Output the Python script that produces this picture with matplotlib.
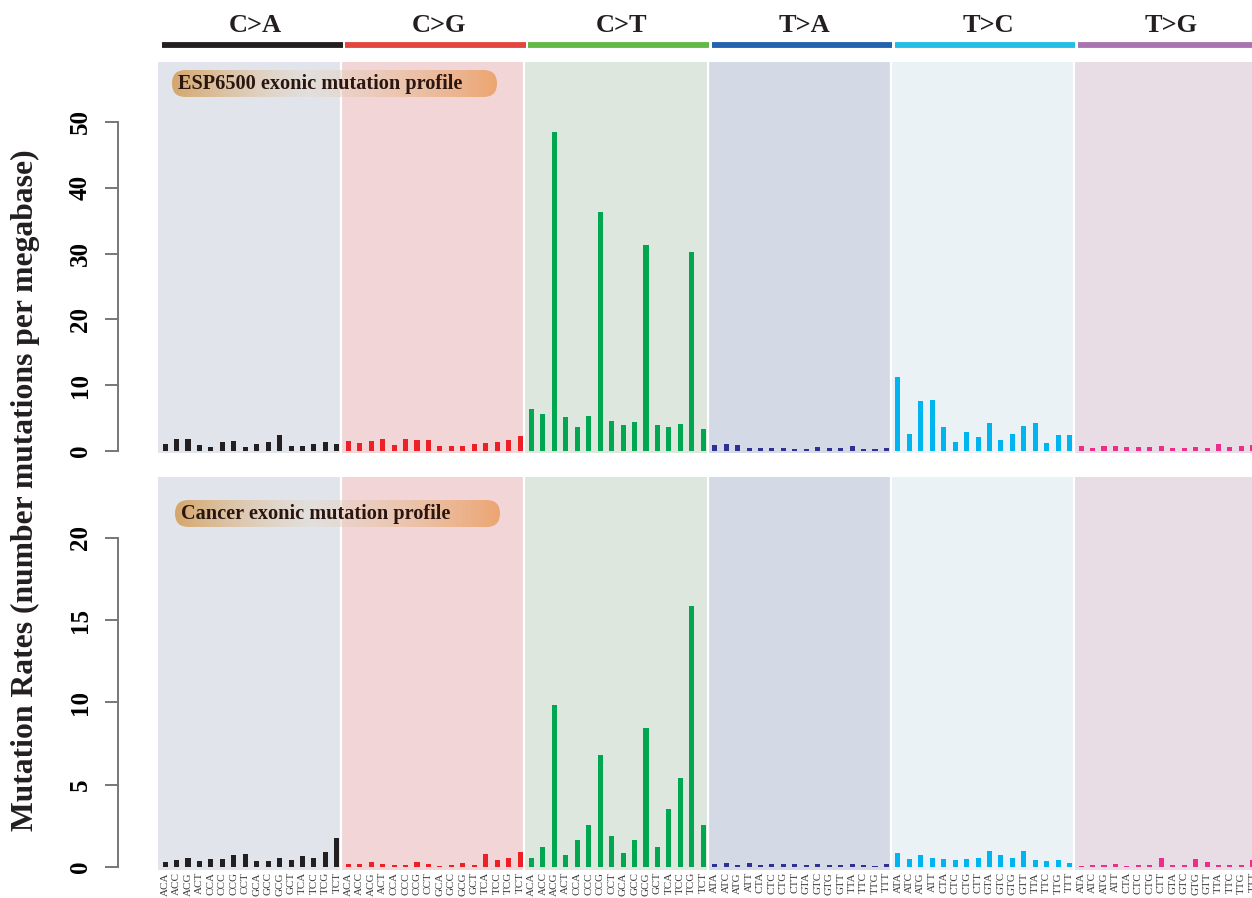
import matplotlib
matplotlib.use("Agg")
import matplotlib.pyplot as plt
import numpy as np
from matplotlib.patches import FancyBboxPatch

# ---------------- data ----------------
mut_types = ["C>A", "C>G", "C>T", "T>A", "T>C", "T>G"]
c_contexts = ["ACA", "ACC", "ACG", "ACT", "CCA", "CCC", "CCG", "CCT",
              "GCA", "GCC", "GCG", "GCT", "TCA", "TCC", "TCG", "TCT"]
t_contexts = ["ATA", "ATC", "ATG", "ATT", "CTA", "CTC", "CTG", "CTT",
              "GTA", "GTC", "GTG", "GTT", "TTA", "TTC", "TTG", "TTT"]

# ESP6500 exonic mutation profile (top panel)
esp_CA = [1.06, 1.77, 1.77, 0.86, 0.61, 1.32, 1.52, 0.66, 1.11, 1.42, 2.48, 0.76, 0.76, 1.11, 1.42, 1.11]
esp_CG = [1.52, 1.17, 1.47, 1.82, 0.91, 1.87, 1.67, 1.67, 0.81, 0.76, 0.81, 1.01, 1.27, 1.37, 1.72, 2.33]
esp_CT = [6.4, 5.7, 48.5, 5.1, 3.6, 5.3, 36.3, 4.5, 3.9, 4.4, 31.3, 4.0, 3.7, 4.1, 30.2, 3.4]
esp_TA = [0.91, 1.06, 0.91, 0.51, 0.51, 0.46, 0.46, 0.35, 0.35, 0.66, 0.41, 0.46, 0.71, 0.30, 0.25, 0.46]
esp_TC = [11.3, 2.63, 7.65, 7.75, 3.6, 1.42, 2.89, 2.18, 4.2, 1.67, 2.63, 3.75, 4.26, 1.27, 2.48, 2.48]
esp_TG = [0.76, 0.51, 0.81, 0.71, 0.56, 0.66, 0.61, 0.71, 0.51, 0.41, 0.56, 0.51, 1.01, 0.66, 0.71, 0.96]

# Cancer exonic mutation profile (bottom panel)
can_CA = [0.32, 0.41, 0.53, 0.34, 0.47, 0.47, 0.71, 0.77, 0.38, 0.38, 0.55, 0.45, 0.67, 0.57, 0.91, 1.76]
can_CG = [0.16, 0.16, 0.30, 0.20, 0.10, 0.14, 0.32, 0.16, 0.08, 0.14, 0.22, 0.14, 0.81, 0.41, 0.57, 0.93]
can_CT = [0.57, 1.2, 9.85, 0.71, 1.64, 2.57, 6.8, 1.9, 0.87, 1.66, 8.45, 1.2, 3.53, 5.4, 15.87, 2.55]
can_TA = [0.19, 0.24, 0.15, 0.26, 0.15, 0.17, 0.17, 0.19, 0.15, 0.17, 0.13, 0.13, 0.19, 0.13, 0.09, 0.17]
can_TC = [0.84, 0.47, 0.73, 0.54, 0.51, 0.41, 0.47, 0.54, 0.96, 0.73, 0.56, 0.98, 0.45, 0.36, 0.41, 0.24]
can_TG = [0.09, 0.13, 0.11, 0.19, 0.09, 0.13, 0.13, 0.54, 0.11, 0.15, 0.47, 0.28, 0.11, 0.13, 0.13, 0.43]

esp_values = [esp_CA, esp_CG, esp_CT, esp_TA, esp_TC, esp_TG]
can_values = [can_CA, can_CG, can_CT, can_TA, can_TC, can_TG]
contexts = [c_contexts] * 3 + [t_contexts] * 3

top_ticks = [0, 10, 20, 30, 40, 50]
bottom_ticks = [0, 5, 10, 15, 20]

panel_labels = ["ESP6500 exonic mutation profile", "Cancer exonic mutation profile"]
ylabel = "Mutation Rates (number mutations per megabase)"

# ---------------- style ----------------
bar_colors = ["#231f20", "#ec2127", "#00a650", "#2e3192", "#00b4ef", "#ec2d8c"]
header_colors = ["#231f20", "#e2473f", "#63b946", "#2163ae", "#22bee6", "#a874b0"]
bg_colors = ["#e1e5eb", "#f1d5d7", "#dde7dd", "#d3dae6", "#eaf2f6", "#e8dce5"]
serif = ["Liberation Serif", "DejaVu Serif"]

W, H = 1252, 898
fig = plt.figure(figsize=(W / 100, H / 100), dpi=100)
PT = 72 / 100  # points per pixel

n = 16
ntot = 96
slot = 11.45
x0 = 158
axw = ntot * slot


def fax(left, top, width, height):
    return fig.add_axes([left / W, 1 - (top + height) / H, width / W, height / H])


def draw_panel(ax, values, ylim, ticks, show_xlabels):
    ax.set_xlim(0, ntot)
    ax.set_ylim(*ylim)
    for k in range(6):
        ax.axvspan(k * n, (k + 1) * n, color=bg_colors[k], lw=0, zorder=0)
    for k in range(1, 6):
        ax.axvline(k * n, color="white", lw=1.6, zorder=1)
    for k in range(6):
        xs = np.arange(n) + k * n + 0.62
        ax.bar(xs, values[k], width=0.44, color=bar_colors[k], lw=0, zorder=2)
    for s in ["top", "right", "bottom"]:
        ax.spines[s].set_visible(False)
    ax.spines["left"].set_position(("outward", 40 * PT))
    ax.spines["left"].set_bounds(ticks[0], ticks[-1])
    ax.spines["left"].set_color("#777777")
    ax.spines["left"].set_linewidth(1.4)
    ax.set_yticks(ticks)
    ax.set_yticklabels([str(t) for t in ticks], rotation=90, va="center",
                       fontfamily=serif, fontweight="bold", fontsize=18)
    ax.tick_params(axis="y", length=13 * PT, width=1.4, color="#777777", pad=13 * PT)
    if show_xlabels:
        xs_all = np.arange(ntot) + 0.62
        labs = [c for k in range(6) for c in contexts[k]]
        ax.set_xticks(xs_all)
        ax.set_xticklabels(labs, rotation=90, fontfamily=serif, fontsize=8,
                           color="#3a3a3a")
        ax.tick_params(axis="x", length=0, pad=1.5)
    else:
        ax.set_xticks([])


ax_top = fax(x0, 62, axw, 391)
draw_panel(ax_top, esp_values, (-0.3, 59.1), top_ticks, False)
ax_bot = fax(x0, 477, axw, 393)
draw_panel(ax_bot, can_values, (-0.18, 23.7), bottom_ticks, True)

# header with mutation type titles
ax_h = fax(x0, 0, axw, 60)
ax_h.set_xlim(0, ntot)
ax_h.set_ylim(60, 0)
ax_h.axis("off")
for k in range(6):
    ax_h.plot([k * n + 0.35, (k + 1) * n + 0.12], [45, 45], color=header_colors[k],
              lw=4.2, solid_capstyle="butt")
    ax_h.text(k * n + 8.5, 25, mut_types[k], ha="center", va="center",
              fontfamily=serif, fontweight="bold", fontsize=19, color="#231f20")

# y label
fig.text(25 / W, 1 - 490 / H, ylabel, rotation=90, ha="center", va="center",
         fontfamily=serif, fontweight="bold", fontsize=22.8, color="#231f20")


# gradient label boxes
def grad_box(left, top, w, h, label):
    ax = fax(left, top, w, h)
    ax.set_xlim(0, w)
    ax.set_ylim(0, h)
    ax.axis("off")
    ax.patch.set_alpha(0)
    stops = np.array([0.0, 0.42, 1.0])
    cols = np.array([[212, 163, 100, 0.95 * 255],
                     [228, 214, 200, 0.40 * 255],
                     [237, 163, 108, 0.95 * 255]]) / 255.0
    t = np.linspace(0, 1, 300)
    grad = np.stack([np.interp(t, stops, cols[:, c]) for c in range(4)], axis=-1)
    img = ax.imshow(grad[None, :, :], extent=(0, w, 0, h), aspect="auto",
                    interpolation="bilinear")
    patch = FancyBboxPatch((0, 0), w, h, boxstyle=f"round,pad=0,rounding_size={h / 2}",
                           transform=ax.transData, facecolor="none", edgecolor="none")
    ax.add_patch(patch)
    img.set_clip_path(patch)
    ax.text(6, h / 2, label, ha="left", va="center", fontfamily=serif,
            fontweight="bold", fontsize=14.6, color="#2a1510")


grad_box(172, 70, 325, 27, panel_labels[0])
grad_box(175, 500, 325, 27, panel_labels[1])

fig.savefig("out.png", dpi=100)
